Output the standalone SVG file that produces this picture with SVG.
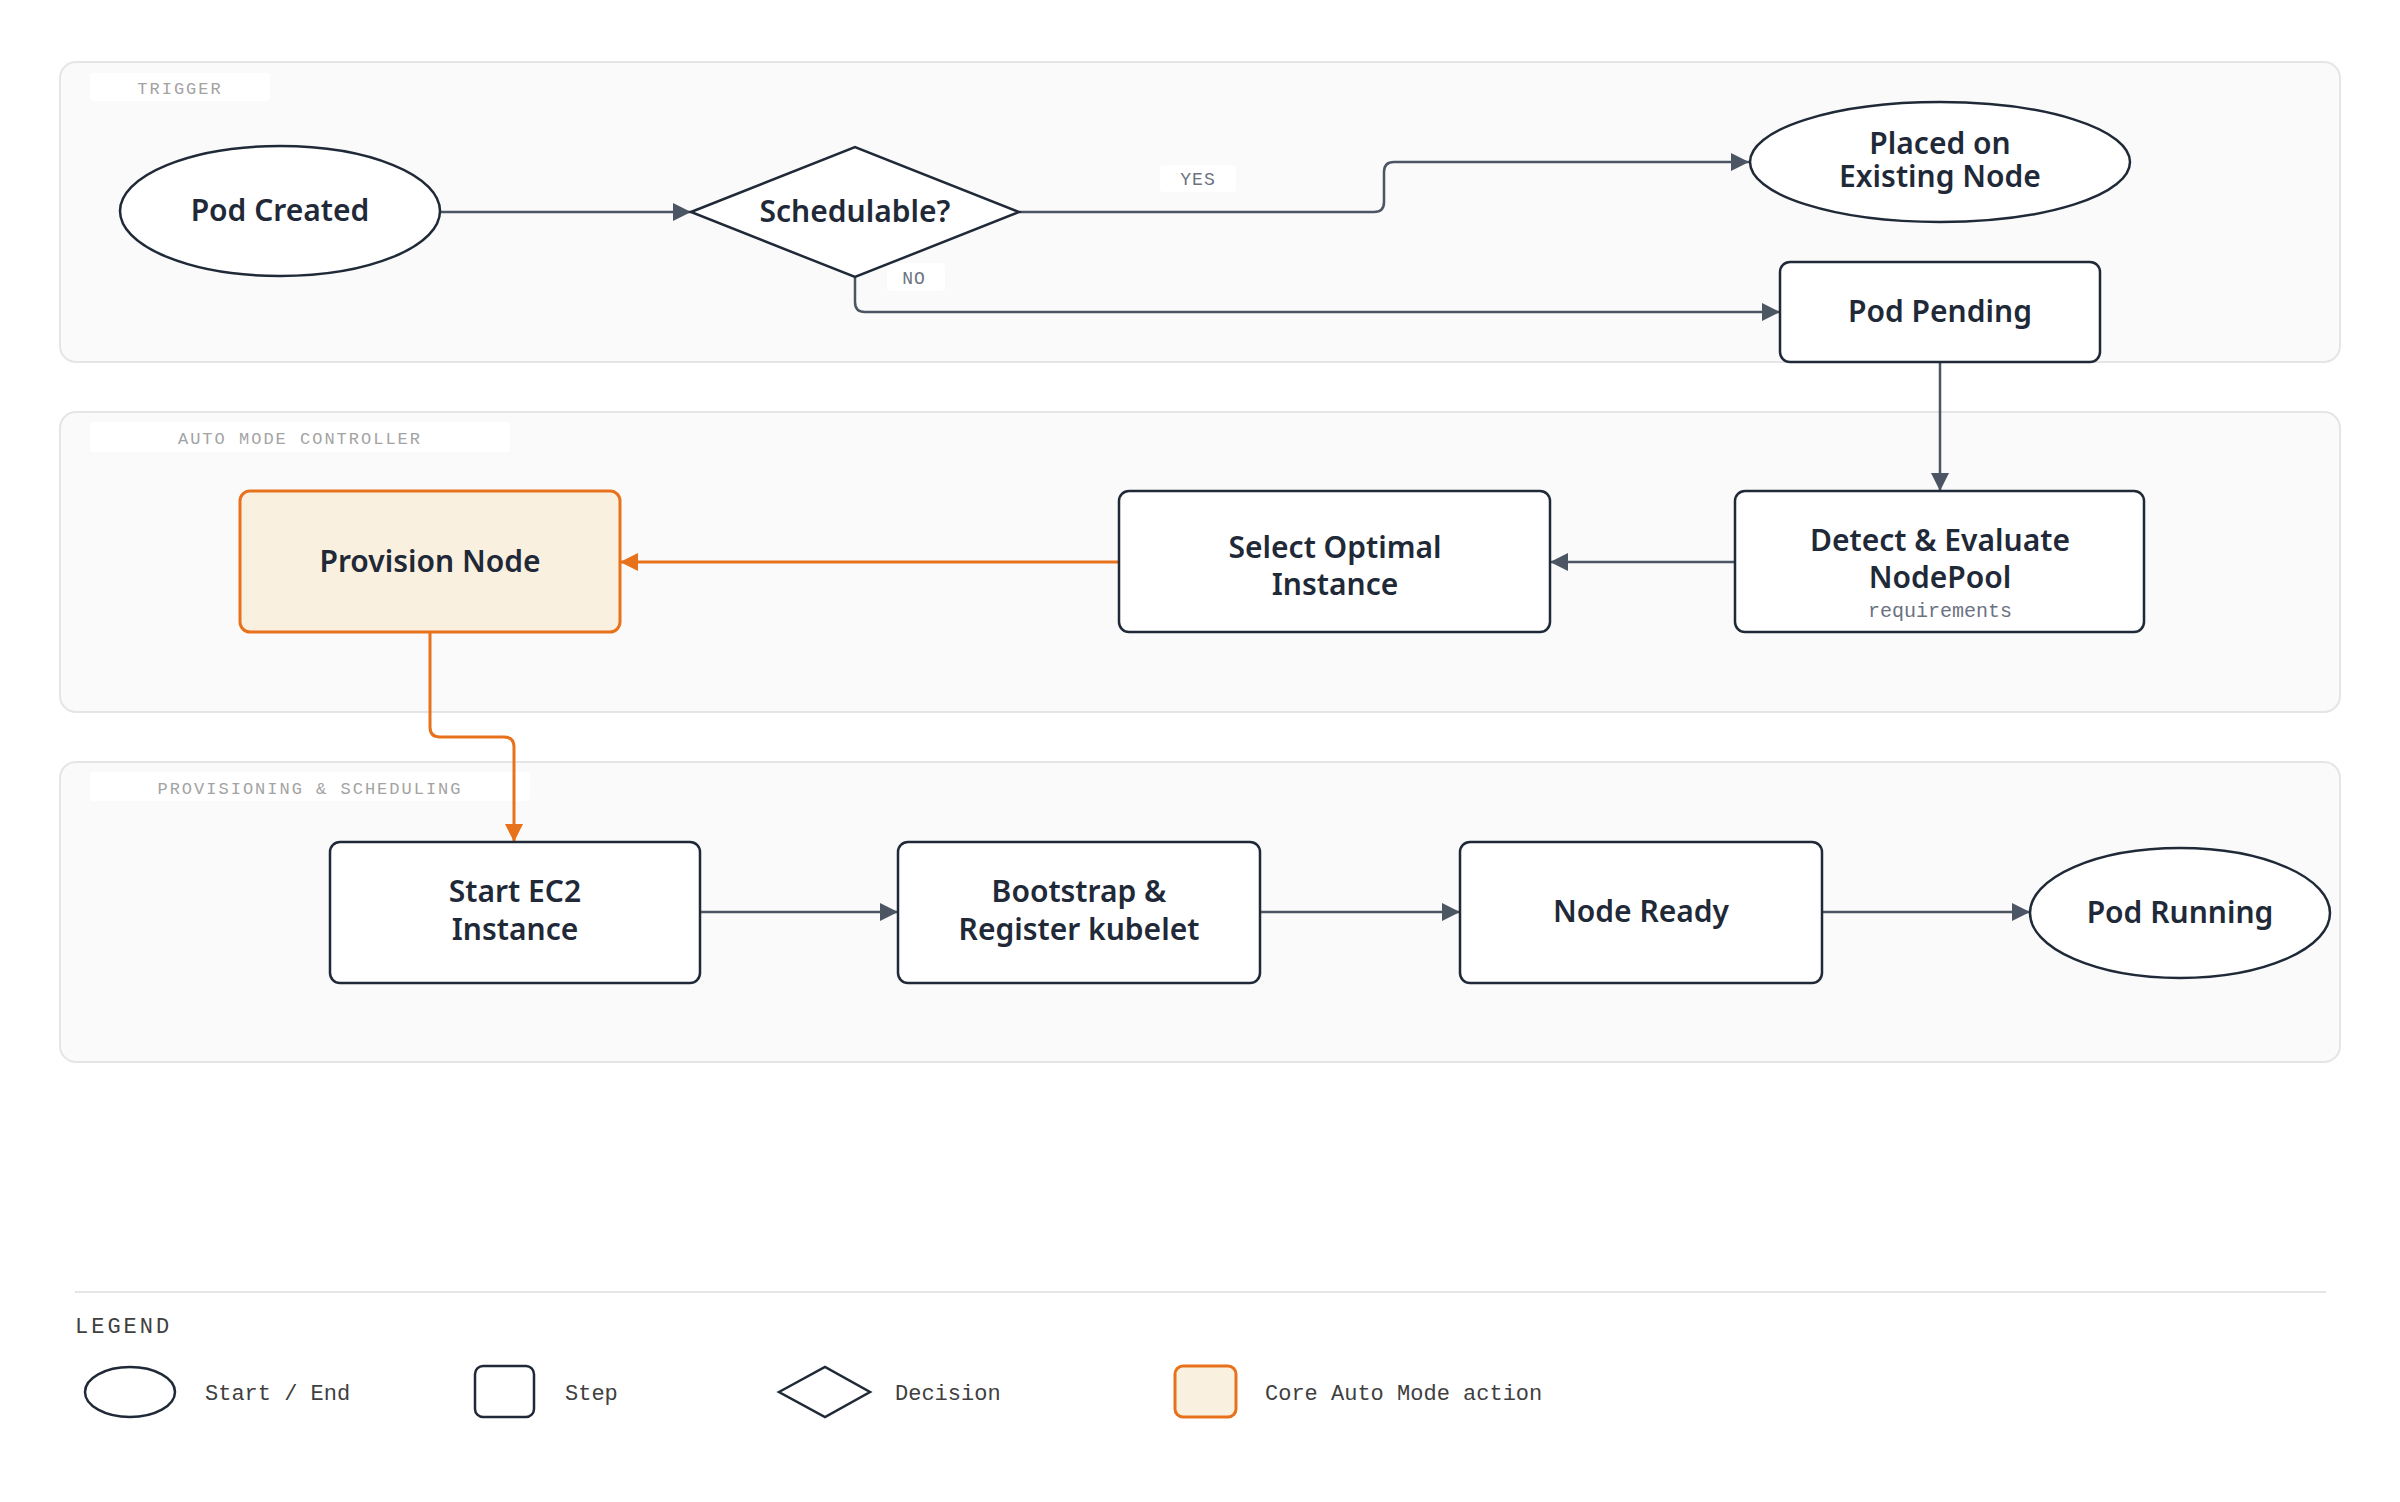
<svg xmlns="http://www.w3.org/2000/svg" width="2400" height="1502" viewBox="0 0 2400 1502">
<defs>
<marker id="ag" viewBox="0 0 10 10" refX="10" refY="5" markerWidth="20" markerHeight="18" markerUnits="userSpaceOnUse" orient="auto"><path d="M0,0 L10,5 L0,10 z" fill="#4b5563"/></marker>
<marker id="ao" viewBox="0 0 10 10" refX="10" refY="5" markerWidth="20" markerHeight="18" markerUnits="userSpaceOnUse" orient="auto"><path d="M0,0 L10,5 L0,10 z" fill="#e8721c"/></marker>
<style>
.panel{fill:#fafafa;stroke:#e5e5e5;stroke-width:2}
.plab{fill:#fff}
.pt{font-family:"Liberation Mono",monospace;font-size:17px;fill:#a3a3a3;letter-spacing:2px;text-anchor:middle}
.n{fill:#fff;stroke:#1f2937;stroke-width:2.5}
.core{fill:#faf0e0;stroke:#e8721c;stroke-width:3}
.t{font-family:"Noto Sans",sans-serif;font-size:30px;font-weight:600;fill:#1f2937;text-anchor:middle}
.sub{font-family:"Liberation Mono",monospace;font-size:20px;fill:#6b7280;text-anchor:middle}
.c{fill:none;stroke:#4b5563;stroke-width:2.5;marker-end:url(#ag)}
.co{fill:none;stroke:#e8721c;stroke-width:3;marker-end:url(#ao)}
.el{font-family:"Liberation Mono",monospace;font-size:18px;fill:#6b7280;text-anchor:middle;letter-spacing:1px}
.lg{font-family:"Liberation Mono",monospace;font-size:22px;fill:#404040}
</style>
</defs>
<rect width="2400" height="1502" fill="#fff"/>
<g id="panels">
<rect class="panel" x="60" y="62" width="2280" height="300" rx="16"/>
<rect class="plab" x="90" y="73" width="180" height="28" rx="4"/>
<text class="pt" x="180" y="94">TRIGGER</text>
<rect class="panel" x="60" y="412" width="2280" height="300" rx="16"/>
<rect class="plab" x="90" y="422" width="420" height="30" rx="4"/>
<text class="pt" x="300" y="444">AUTO MODE CONTROLLER</text>
<rect class="panel" x="60" y="762" width="2280" height="300" rx="16"/>
<rect class="plab" x="90" y="772" width="440" height="29" rx="4"/>
<text class="pt" x="310" y="794">PROVISIONING &amp; SCHEDULING</text>
</g>
<g id="connectors">
<path class="c" d="M440,212 L691,212"/>
<path class="c" d="M1019,212 L1374,212 Q1384,212 1384,202 L1384,172 Q1384,162 1394,162 L1749,162"/>
<path class="c" d="M855,277 L855,302 Q855,312 865,312 L1780,312"/>
<path class="c" d="M1940,362 L1940,491"/>
<path class="c" d="M1735,562 L1550,562"/>
<path class="co" d="M1119,562 L620,562"/>
<path class="co" d="M430,632 L430,727 Q430,737 440,737 L504,737 Q514,737 514,747 L514,842"/>
<path class="c" d="M700,912 L898,912"/>
<path class="c" d="M1260,912 L1460,912"/>
<path class="c" d="M1822,912 L2030,912"/>
<rect x="1160" y="165" width="76" height="27" rx="4" fill="#fff"/>
<text class="el" x="1198" y="185">YES</text>
<rect x="887" y="263" width="58" height="28" rx="4" fill="#fff"/>
<text class="el" x="914" y="284">NO</text>
</g>
<g id="pod-created"><ellipse class="n" cx="280" cy="211" rx="160" ry="65"/><text class="t" x="280" y="221">Pod Created</text></g>
<g id="schedulable"><polygon class="n" points="691,212 855,147 1019,212 855,277"/><text class="t" x="855" y="222">Schedulable?</text></g>
<g id="placed"><ellipse class="n" cx="1940" cy="162" rx="190" ry="60"/><text class="t" x="1940" y="154" font-size="29">Placed on</text><text class="t" x="1940" y="187" font-size="29">Existing Node</text></g>
<g id="pod-pending"><rect class="n" x="1780" y="262" width="320" height="100" rx="10"/><text class="t" x="1940" y="322">Pod Pending</text></g>
<g id="detect"><rect class="n" x="1735" y="491" width="409" height="141" rx="10"/><text class="t" x="1940" y="551">Detect &amp; Evaluate</text><text class="t" x="1940" y="588">NodePool</text><text class="sub" x="1940" y="617">requirements</text></g>
<g id="select"><rect class="n" x="1119" y="491" width="431" height="141" rx="10"/><text class="t" x="1335" y="558">Select Optimal</text><text class="t" x="1335" y="595">Instance</text></g>
<g id="provision"><rect class="core" x="240" y="491" width="380" height="141" rx="10"/><text class="t" x="430" y="572">Provision Node</text></g>
<g id="start-ec2"><rect class="n" x="330" y="842" width="370" height="141" rx="10"/><text class="t" x="515" y="902">Start EC2</text><text class="t" x="515" y="940">Instance</text></g>
<g id="bootstrap"><rect class="n" x="898" y="842" width="362" height="141" rx="10"/><text class="t" x="1079" y="902">Bootstrap &amp;</text><text class="t" x="1079" y="940">Register kubelet</text></g>
<g id="node-ready"><rect class="n" x="1460" y="842" width="362" height="141" rx="10"/><text class="t" x="1641" y="922">Node Ready</text></g>
<g id="pod-running"><ellipse class="n" cx="2180" cy="913" rx="150" ry="65"/><text class="t" x="2180" y="923">Pod Running</text></g>
<g id="legend">
<line x1="75" y1="1292" x2="2326" y2="1292" stroke="#e5e5e5" stroke-width="2"/>
<text class="lg" x="75" y="1333" font-size="20" letter-spacing="3">LEGEND</text>
<ellipse class="n" cx="130" cy="1392" rx="45" ry="25"/>
<text class="lg" x="205" y="1400">Start / End</text>
<rect class="n" x="475" y="1366" width="59" height="51" rx="8"/>
<text class="lg" x="565" y="1400">Step</text>
<polygon class="n" points="779,1392 825,1367 870,1392 825,1417"/>
<text class="lg" x="895" y="1400">Decision</text>
<rect class="core" x="1175" y="1366" width="61" height="51" rx="8"/>
<text class="lg" x="1265" y="1400">Core Auto Mode action</text>
</g>
</svg>
